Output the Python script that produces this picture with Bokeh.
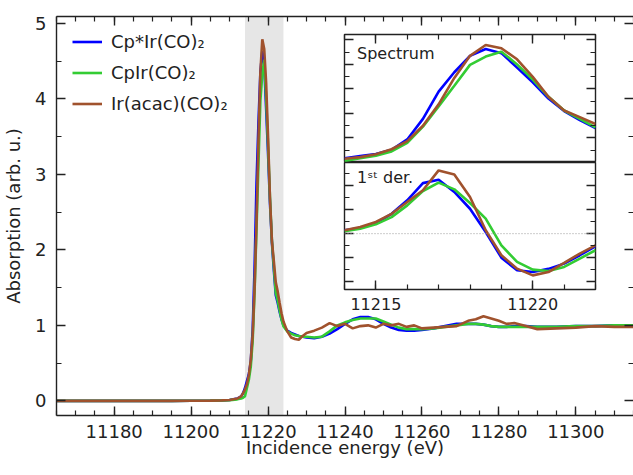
from bokeh.plotting import figure
from bokeh.models import (Range1d, SingleIntervalTicker, FixedTicker, LinearAxis,
                          BoxAnnotation, Span, Label)
from bokeh.layouts import column
from bokeh.embed import file_html
from bokeh.resources import INLINE

FONT = "DejaVu Sans"

# ---------------- data ----------------
names = ["Cp*Ir(CO)₂", "CpIr(CO)₂", "Ir(acac)(CO)₂"]
colors = ["#0000ff", "#33cc33", "#a0522d"]

# pre-edge energies (eV)
energy_pre = [11165, 11175, 11185, 11195, 11200, 11205, 11208, 11210, 11212, 11213, 11213.5]
cpstar_pre = [0, 0, 0, 0, 0.001, 0.003, 0.006, 0.012, 0.03, 0.06, 0.10]
cp_pre = [0, 0, 0, 0, 0.001, 0.003, 0.005, 0.010, 0.02, 0.03, 0.04]
acac_pre = [0, 0, 0, 0, 0.001, 0.003, 0.006, 0.012, 0.03, 0.06, 0.10]

# white-line region (also shown in inset)
energy_edge = [11214.0, 11214.5, 11215.0, 11215.5, 11216.0, 11216.5, 11217.0, 11217.5,
               11218.0, 11218.5, 11219.0, 11219.5, 11220.0, 11220.5, 11221.0, 11221.5, 11222.0]
cpstar_edge = [0.17, 0.26, 0.35, 0.52, 0.94, 1.78, 2.89, 3.68, 4.35, 4.63, 4.46, 3.87, 3.27, 2.61, 2.10, 1.73, 1.40]
cp_edge = [0.06, 0.17, 0.28, 0.45, 0.80, 1.46, 2.29, 3.13, 3.98, 4.32, 4.52, 4.00, 3.38, 2.68, 2.12, 1.78, 1.43]
acac_edge = [0.15, 0.22, 0.34, 0.54, 0.87, 1.50, 2.37, 3.45, 4.35, 4.79, 4.66, 4.21, 3.49, 2.68, 2.12, 1.85, 1.57]

# first derivative in the inset
cpstar_der = [0.14, 0.24, 0.44, 0.83, 1.39, 2.11, 2.25, 1.74, 1.04, 0.07, -1.00, -1.53, -1.60, -1.47, -1.25, -0.90, -0.53]
cp_der = [0.10, 0.21, 0.39, 0.69, 1.18, 1.78, 2.13, 1.85, 1.28, 0.63, -0.49, -1.18, -1.50, -1.56, -1.39, -1.04, -0.69]
acac_der = [0.14, 0.28, 0.49, 0.83, 1.32, 1.81, 2.64, 2.47, 1.53, 0.14, -0.90, -1.46, -1.74, -1.60, -1.22, -0.83, -0.49]

# post-edge (EXAFS-like) region
energy_post = [11222.5, 11223, 11223.5, 11224, 11225, 11226, 11227, 11228, 11229, 11230, 11232, 11234,
               11236, 11238, 11240, 11242, 11244, 11246, 11248, 11250, 11252, 11254, 11256, 11258,
               11260, 11263, 11266, 11269, 11272, 11274, 11276, 11278, 11280, 11282, 11284, 11287,
               11290, 11295, 11300, 11305, 11310, 11315]
cpstar_post = [1.30, 1.18, 1.08, 1.00, 0.93, 0.90, 0.88, 0.86, 0.85, 0.84, 0.83, 0.85,
               0.89, 0.95, 1.02, 1.08, 1.11, 1.11, 1.08, 1.02, 0.97, 0.94, 0.93, 0.93,
               0.94, 0.96, 0.99, 1.02, 1.02, 1.02, 1.01, 0.99, 0.98, 0.98, 0.99, 0.99,
               0.98, 0.98, 0.99, 0.99, 1.00, 1.00]
cp_post = [1.33, 1.20, 1.08, 0.99, 0.92, 0.89, 0.87, 0.86, 0.85, 0.85, 0.84, 0.85,
           0.92, 1.00, 1.04, 1.07, 1.09, 1.09, 1.09, 1.05, 1.01, 0.97, 0.95, 0.95,
           0.95, 0.96, 0.98, 1.00, 1.02, 1.02, 1.01, 0.99, 0.98, 0.98, 0.98, 0.98,
           0.98, 0.98, 0.99, 0.99, 1.00, 1.00]
acac_post = [1.45, 1.30, 1.16, 1.05, 0.92, 0.84, 0.82, 0.81, 0.86, 0.90, 0.93, 0.97,
             1.03, 0.99, 1.02, 0.96, 0.99, 1.00, 0.97, 1.02, 1.00, 1.02, 0.98, 1.00,
             0.96, 0.97, 0.98, 0.99, 1.06, 1.08, 1.12, 1.09, 1.06, 1.02, 1.03, 0.99,
             0.95, 0.96, 0.97, 0.99, 0.98, 0.98]

band_start, band_end = 11214, 11224

energy_main = energy_pre + energy_edge + energy_post
spectra_main = [cpstar_pre + cpstar_edge + cpstar_post,
                cp_pre + cp_edge + cp_post,
                acac_pre + acac_edge + acac_post]
spectra_edge = [cpstar_edge, cp_edge, acac_edge]
derivs = [cpstar_der, cp_der, acac_der]

AX = "#222222"


def style_axis(ax, labels=True, size="18px", line=True):
    ax.major_tick_in = 9
    ax.major_tick_out = 0
    ax.minor_tick_in = 5
    ax.minor_tick_out = 0
    ax.axis_line_color = AX if line else None
    ax.axis_line_width = 1.4
    ax.major_tick_line_color = AX
    ax.major_tick_line_width = 1.4
    ax.minor_tick_line_color = AX
    ax.minor_tick_line_width = 1.2
    ax.major_label_text_font = FONT
    if labels:
        ax.major_label_text_font_size = size
        ax.major_label_text_color = AX
    else:
        ax.major_label_text_font_size = "0px"
        ax.major_label_text_color = None
        ax.major_label_standoff = 0
    ax.axis_label_text_font = FONT
    ax.axis_label_text_font_style = "normal"
    ax.axis_label_text_font_size = "18px"
    ax.axis_label_text_color = AX


# ---------------- main plot ----------------
p = figure(frame_width=577, frame_height=399,
           x_range=Range1d(11165, 11315), y_range=Range1d(-0.194, 5.091),
           output_backend="svg", toolbar_location=None, frame_align=False,
           min_border_left=48, min_border_right=0, min_border_top=8, min_border_bottom=47,
           outline_line_color=None)
p.margin = (8, 0, 0, 0)
p.grid.visible = False

xt = SingleIntervalTicker(interval=20, num_minor_ticks=4)
yt = SingleIntervalTicker(interval=1, num_minor_ticks=2)
p.xaxis.ticker = xt
p.yaxis.ticker = yt
for ax in p.xaxis:
    style_axis(ax)
    ax.major_label_standoff = 9
    ax.axis_label = "Incidence energy (eV)"
    ax.axis_label_standoff = -4
for ax in p.yaxis:
    style_axis(ax)
    ax.major_label_standoff = 10
    ax.axis_label = "Absorption (arb. u.)"
    ax.axis_label_standoff = 8

top_ax = LinearAxis(ticker=xt)
style_axis(top_ax, labels=False)
p.add_layout(top_ax, "above")
right_ax = LinearAxis(ticker=yt)
style_axis(right_ax, labels=False, line=False)
p.add_layout(right_ax, "right")

p.add_layout(BoxAnnotation(left=band_start, right=band_end, fill_color="#e6e6e6", fill_alpha=1.0,
                           line_color=None, level="underlay"))

for nm, col, ys in zip(names, colors, spectra_main):
    p.line(energy_main, ys, line_color=col, line_width=2.6, legend_label=nm)

lg = p.legend[0]
lg.location = (16, 299)
lg.glyph_width = 30
lg.glyph_height = 25
lg.label_height = 25
lg.spacing = 6
lg.padding = 0
lg.margin = 0
lg.label_standoff = 9
lg.border_line_color = None
lg.background_fill_alpha = 0
lg.label_text_font = FONT
lg.label_text_font_size = "18px"
lg.label_text_color = AX

# ---------------- inset: spectrum ----------------
inset_x = Range1d(11214, 11222)
ins_xt = FixedTicker(ticks=[11215, 11220], minor_ticks=list(range(11214, 11223)))
ti = figure(frame_width=251, frame_height=128, x_range=inset_x, y_range=Range1d(0, 5.22),
            output_backend="svg", toolbar_location=None, frame_align=False,
            min_border_left=10, min_border_right=10, min_border_top=10, min_border_bottom=0,
            x_axis_location="above", y_axis_location="left",
            outline_line_color=AX, outline_line_width=1.4,
            background_fill_color="white", border_fill_color=None)
ti.grid.visible = False
ti.xaxis.ticker = ins_xt
ti.yaxis.ticker = SingleIntervalTicker(interval=1, num_minor_ticks=2)
for ax in list(ti.xaxis) + list(ti.yaxis):
    style_axis(ax, labels=False, line=False)
r_ti = LinearAxis(ticker=SingleIntervalTicker(interval=1, num_minor_ticks=2))
style_axis(r_ti, labels=False, line=False)
ti.add_layout(r_ti, "right")
for col, ys in zip(colors, spectra_edge):
    ti.line(energy_edge, ys, line_color=col, line_width=2.6)
ti.add_layout(Label(x=11214.4, y=4.445, text="Spectrum", text_baseline="middle",
                    text_font=FONT, text_font_size="16px", text_color=AX))
ti.styles = {"position": "absolute", "left": "334px", "top": "24px"}

# ---------------- inset: 1st derivative ----------------
bi = figure(frame_width=251, frame_height=127, x_range=inset_x, y_range=Range1d(-2.33, 2.97),
            output_backend="svg", toolbar_location=None, frame_align=False,
            min_border_left=10, min_border_right=10, min_border_top=0, min_border_bottom=30,
            x_axis_location="below", y_axis_location="left",
            outline_line_color=AX, outline_line_width=1.4,
            background_fill_color="white", border_fill_color=None)
bi.grid.visible = False
bi.xaxis.ticker = ins_xt
bi.yaxis.ticker = SingleIntervalTicker(interval=1, num_minor_ticks=2)
for ax in bi.xaxis:
    style_axis(ax, labels=True, size="16px", line=False)
    ax.major_label_standoff = 8
for ax in bi.yaxis:
    style_axis(ax, labels=False, line=False)
r_bi = LinearAxis(ticker=SingleIntervalTicker(interval=1, num_minor_ticks=2))
style_axis(r_bi, labels=False, line=False)
bi.add_layout(r_bi, "right")
bi.add_layout(Span(location=0, dimension="width", line_color="#999999", line_width=1,
                   line_dash="1 2"))
for col, ys in zip(colors, derivs):
    bi.line(energy_edge, ys, line_color=col, line_width=2.6)
bi.add_layout(Label(x=11214.4, y=2.35, text="1ˢᵗ der.", text_baseline="middle",
                    text_font=FONT, text_font_size="16px", text_color=AX))
bi.styles = {"position": "absolute", "left": "334px", "top": "162px"}

layout = column(p, ti, bi)

open("out.html", "w").write(file_html(layout, INLINE))
